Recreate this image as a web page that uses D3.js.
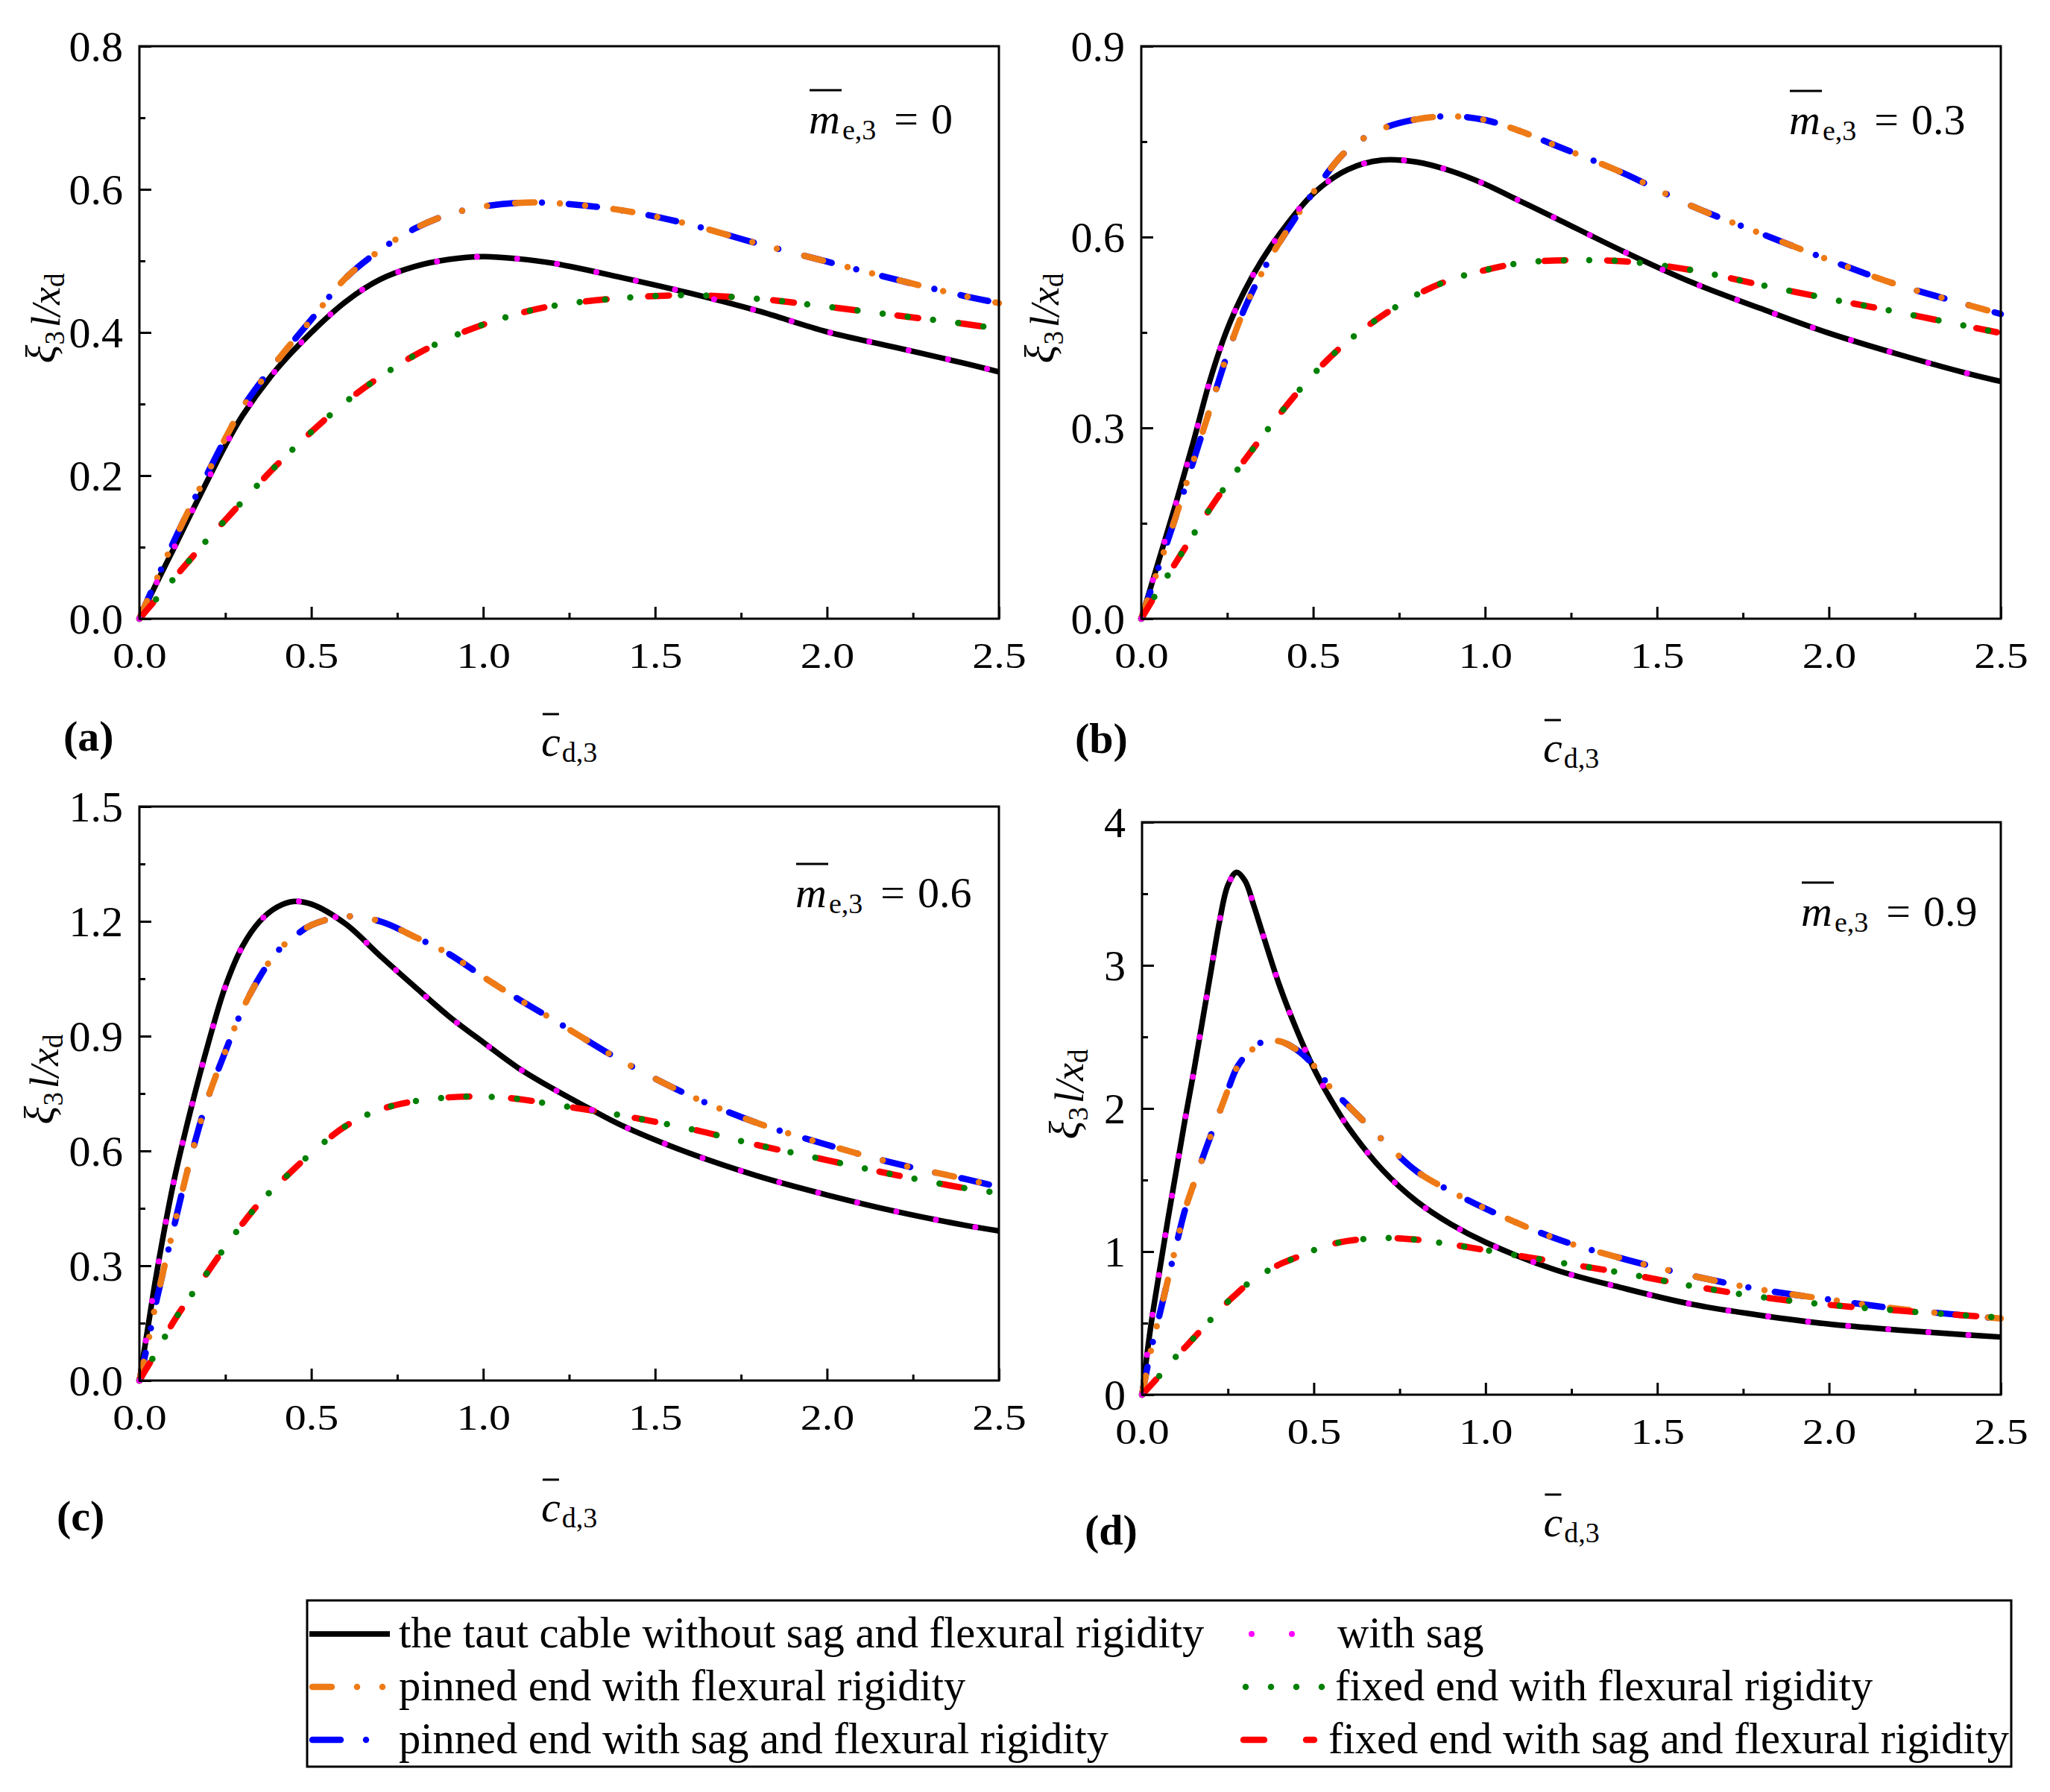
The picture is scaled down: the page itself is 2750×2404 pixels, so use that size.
<!DOCTYPE html>
<html><head><meta charset="utf-8">
<script src="https://cdn.jsdelivr.net/npm/d3@7/dist/d3.min.js"></script>
<style>
body{margin:0;background:#fff}
svg text{font-family:"Liberation Serif","Times New Roman",serif;fill:#000}
</style>
</head><body>
<svg id="chart" width="2750" height="2404"></svg>
<script>
// ---------------- data ----------------
const xTicks = [0, 0.5, 1.0, 1.5, 2.0, 2.5];
const xMinorTicks = [0.25, 0.75, 1.25, 1.75, 2.25];
const panelLabels = ["(a)", "(b)", "(c)", "(d)"];
const massValues = ["0", "0.3", "0.6", "0.9"];

const yTicksA = [0, 0.2, 0.4, 0.6, 0.8], yMinorA = [0.1, 0.3, 0.5, 0.7];
const yTicksB = [0, 0.3, 0.6, 0.9], yMinorB = [0.15, 0.45, 0.75];
const yTicksC = [0, 0.3, 0.6, 0.9, 1.2, 1.5], yMinorC = [0.15, 0.45, 0.75, 1.05, 1.35];
const yTicksD = [0, 1, 2, 3, 4], yMinorD = [0.5, 1.5, 2.5, 3.5];

// panel (a): m_e,3 = 0
const xA      = [0, 0.05, 0.1, 0.15, 0.2, 0.25, 0.3, 0.4, 0.5, 0.6, 0.7, 0.8, 0.9, 1.0, 1.1, 1.2, 1.4, 1.6, 1.8, 2.0, 2.2, 2.4, 2.5];
const tautA   = [0, 0.050, 0.098, 0.147, 0.195, 0.242, 0.284, 0.349, 0.400, 0.443, 0.474, 0.492, 0.502, 0.506, 0.503, 0.497, 0.477, 0.455, 0.430, 0.401, 0.379, 0.357, 0.345];
const pinnedA = [0, 0.055, 0.108, 0.158, 0.205, 0.252, 0.295, 0.360, 0.418, 0.476, 0.515, 0.545, 0.565, 0.576, 0.581, 0.581, 0.571, 0.551, 0.524, 0.499, 0.474, 0.451, 0.441];
const fixedA  = [0, 0.028, 0.056, 0.084, 0.112, 0.138, 0.164, 0.215, 0.261, 0.303, 0.338, 0.368, 0.392, 0.411, 0.426, 0.437, 0.448, 0.452, 0.447, 0.436, 0.424, 0.412, 0.405];

// panel (b): m_e,3 = 0.3
const xB      = [0, 0.05, 0.1, 0.15, 0.2, 0.25, 0.3, 0.35, 0.4, 0.5, 0.6, 0.7, 0.8, 0.9, 1.0, 1.1, 1.2, 1.4, 1.6, 1.8, 2.0, 2.2, 2.4, 2.5];
const tautB   = [0, 0.090, 0.180, 0.275, 0.375, 0.455, 0.515, 0.563, 0.603, 0.668, 0.706, 0.721, 0.718, 0.704, 0.683, 0.657, 0.631, 0.578, 0.529, 0.488, 0.449, 0.416, 0.386, 0.373];
const pinnedB = [0, 0.080, 0.160, 0.245, 0.330, 0.415, 0.487, 0.543, 0.590, 0.670, 0.737, 0.770, 0.785, 0.790, 0.784, 0.767, 0.745, 0.701, 0.649, 0.606, 0.564, 0.525, 0.494, 0.479];
const fixedB  = [0, 0.045, 0.088, 0.131, 0.173, 0.212, 0.249, 0.285, 0.320, 0.384, 0.436, 0.476, 0.509, 0.533, 0.548, 0.559, 0.563, 0.562, 0.548, 0.525, 0.503, 0.482, 0.460, 0.449];

// panel (c): m_e,3 = 0.6
const xC      = [0, 0.025, 0.05, 0.1, 0.15, 0.2, 0.25, 0.3, 0.35, 0.4, 0.45, 0.5, 0.6, 0.7, 0.8, 0.9, 1.0, 1.1, 1.2, 1.3, 1.4, 1.6, 1.8, 2.0, 2.2, 2.4, 2.5];
const tautC   = [0, 0.14, 0.28, 0.52, 0.71, 0.88, 1.03, 1.135, 1.20, 1.237, 1.252, 1.245, 1.193, 1.11, 1.03, 0.952, 0.884, 0.818, 0.764, 0.715, 0.668, 0.594, 0.534, 0.485, 0.442, 0.406, 0.391];
const pinnedC = [0, 0.10, 0.21, 0.40, 0.585, 0.74, 0.86, 0.97, 1.055, 1.12, 1.16, 1.19, 1.213, 1.20, 1.16, 1.115, 1.055, 0.998, 0.945, 0.89, 0.837, 0.745, 0.672, 0.616, 0.567, 0.527, 0.506];
const fixedC  = [0, 0.038, 0.075, 0.155, 0.222, 0.285, 0.35, 0.41, 0.465, 0.51, 0.553, 0.594, 0.665, 0.708, 0.73, 0.74, 0.742, 0.736, 0.722, 0.708, 0.693, 0.658, 0.615, 0.576, 0.537, 0.503, 0.49];

// panel (d): m_e,3 = 0.9
const xD      = [0, 0.025, 0.05, 0.075, 0.1, 0.125, 0.15, 0.175, 0.2, 0.225, 0.25, 0.275, 0.3, 0.325, 0.35, 0.4, 0.45, 0.5, 0.55, 0.6, 0.7, 0.8, 0.9, 1.0, 1.2, 1.4, 1.6, 1.8, 2.0, 2.2, 2.4, 2.5];
const tautD   = [0, 0.47, 0.85, 1.22, 1.57, 1.92, 2.25, 2.60, 2.95, 3.30, 3.56, 3.65, 3.59, 3.42, 3.23, 2.86, 2.55, 2.28, 2.06, 1.87, 1.57, 1.35, 1.19, 1.065, 0.875, 0.745, 0.632, 0.555, 0.493, 0.452, 0.418, 0.403];
const pinnedD = [0, 0.30, 0.55, 0.80, 1.05, 1.29, 1.47, 1.645, 1.81, 1.97, 2.13, 2.28, 2.365, 2.42, 2.465, 2.47, 2.41, 2.30, 2.14, 2.02, 1.78, 1.56, 1.42, 1.30, 1.095, 0.95, 0.832, 0.735, 0.665, 0.60, 0.553, 0.532];
const fixedD  = [0, 0.065, 0.13, 0.20, 0.27, 0.33, 0.395, 0.46, 0.525, 0.59, 0.65, 0.705, 0.76, 0.81, 0.845, 0.91, 0.96, 1.01, 1.05, 1.075, 1.095, 1.083, 1.05, 1.01, 0.93, 0.85, 0.76, 0.683, 0.628, 0.588, 0.553, 0.539];

// the "with sag" curves coincide with the taut-cable curves in the figure,
// the "pinned/fixed with sag and flexural rigidity" curves coincide with the "with flexural rigidity" ones
const sagA = tautA, sagB = tautB, sagC = tautC, sagD = tautD;
const pinnedSagA = pinnedA, pinnedSagB = pinnedB, pinnedSagC = pinnedC, pinnedSagD = pinnedD;
const fixedSagA = fixedA, fixedSagB = fixedB, fixedSagC = fixedC, fixedSagD = fixedD;

const seriesNames = {
  taut: "the taut cable without sag and flexural rigidity",
  sag: "with sag",
  pinned: "pinned end with flexural rigidity",
  fixed: "fixed end with flexural rigidity",
  pinnedSag: "pinned end with sag and flexural rigidity",
  fixedSag: "fixed end with sag and flexural rigidity"
};

// ---------------- styles / layout ----------------
const styles = {
  taut:      {color: "#000000", width: 7.5, dash: null},
  pinnedSag: {color: "#0000ff", width: 8.5, dash: "38 34 0 36"},
  pinned:    {color: "#ee7a16", width: 8.5, dash: "26 34 0 34 0 38"},
  fixedSag:  {color: "#ff0000", width: 8.5, dash: "28 56"},
  fixed:     {color: "#008000", width: 8.5, dash: "0 34"},
  sag:       {color: "#ff00ff", width: 8,   dash: "0 54"}
};
const drawOrder = ["taut", "pinnedSag", "pinned", "fixedSag", "fixed", "sag"];

const panels = [
  {left: 187, right: 1340, top: 62, bottom: 830, yMax: 0.8, yTicks: yTicksA, yMinor: yMinorA, fmt: ".1f",
   x: xA, data: {taut: tautA, sag: sagA, pinned: pinnedA, fixed: fixedA, pinnedSag: pinnedSagA, fixedSag: fixedSagA},
   ann: [1085, 179], lab: [85, 1007], yLabX: 80, xLabY: 1014},
  {left: 1531, right: 2684, top: 62, bottom: 830, yMax: 0.9, yTicks: yTicksB, yMinor: yMinorB, fmt: ".1f",
   x: xB, data: {taut: tautB, sag: sagB, pinned: pinnedB, fixed: fixedB, pinnedSag: pinnedSagB, fixedSag: fixedSagB},
   ann: [2400, 180], lab: [1442, 1010], yLabX: 1420, xLabY: 1022},
  {left: 187, right: 1340, top: 1082, bottom: 1852, yMax: 1.5, yTicks: yTicksC, yMinor: yMinorC, fmt: ".1f",
   x: xC, data: {taut: tautC, sag: sagC, pinned: pinnedC, fixed: fixedC, pinnedSag: pinnedSagC, fixedSag: fixedSagC},
   ann: [1067, 1217], lab: [76, 2053], yLabX: 78, xLabY: 2041},
  {left: 1532, right: 2684, top: 1103, bottom: 1871, yMax: 4, yTicks: yTicksD, yMinor: yMinorD, fmt: "d",
   x: xD, data: {taut: tautD, sag: sagD, pinned: pinnedD, fixed: fixedD, pinnedSag: pinnedSagD, fixedSag: fixedSagD},
   ann: [2416, 1242], lab: [1455, 2072], yLabX: 1453, xLabY: 2061}
];

const FS = 58, SUB = 38;
const svg = d3.select("#chart");
svg.append("rect").attr("width", 2750).attr("height", 2404).attr("fill", "#fff");

function applyStyle(sel, st) {
  sel.attr("fill", "none").attr("stroke", st.color).attr("stroke-width", st.width)
     .attr("stroke-linecap", st.dash ? "round" : "butt").attr("stroke-linejoin", "round");
  if (st.dash) sel.attr("stroke-dasharray", st.dash);
}

panels.forEach((p, i) => {
  const g = svg.append("g");
  const x = d3.scaleLinear().domain([0, 2.5]).range([p.left, p.right]);
  const y = d3.scaleLinear().domain([0, p.yMax]).range([p.bottom, p.top]);

  // curves
  const line = d3.line().x(d => x(d[0])).y(d => y(d[1])).curve(d3.curveCatmullRom.alpha(0.5));
  drawOrder.forEach(k => {
    g.append("path").datum(d3.zip(p.x, p.data[k])).attr("d", line).call(applyStyle, styles[k]);
  });

  // x axis (ticks inside)
  const xa = g.append("g").attr("transform", `translate(0,${p.bottom})`)
    .call(d3.axisBottom(x).tickValues(xTicks).tickSize(-16).tickSizeOuter(0).tickFormat(d3.format(".1f")));
  const xm = g.append("g").attr("transform", `translate(0,${p.bottom})`)
    .call(d3.axisBottom(x).tickValues(xMinorTicks).tickSize(-8).tickSizeOuter(0).tickFormat(""));
  [xa, xm].forEach(a => { a.select(".domain").remove(); a.selectAll("line").attr("stroke-width", 3); });
  xa.attr("font-size", FS).attr("font-family", null);
  xa.selectAll("text").attr("y", 0).attr("dy", null)
    .attr("transform", "translate(0,66) scale(1,0.85)");

  // y axis
  const ya = g.append("g").attr("transform", `translate(${p.left},0)`)
    .call(d3.axisLeft(y).tickValues(p.yTicks).tickSize(-16).tickSizeOuter(0).tickPadding(22).tickFormat(d3.format(p.fmt)));
  const ym = g.append("g").attr("transform", `translate(${p.left},0)`)
    .call(d3.axisLeft(y).tickValues(p.yMinor).tickSize(-8).tickSizeOuter(0).tickFormat(""));
  [ya, ym].forEach(a => { a.select(".domain").remove(); a.selectAll("line").attr("stroke-width", 3); });
  ya.attr("font-size", FS).attr("font-family", null);
  ya.selectAll("text").attr("dy", "0.34em");

  // frame
  g.append("rect").attr("x", p.left).attr("y", p.top).attr("width", p.right - p.left).attr("height", p.bottom - p.top)
    .attr("fill", "none").attr("stroke", "#000").attr("stroke-width", 3);

  // y label  ξ3 l/xd
  const yl = g.append("text")
    .attr("transform", `translate(${p.yLabX},${(p.top + p.bottom) / 2 - 19}) rotate(-90)`)
    .attr("text-anchor", "middle").attr("font-size", 54);
  yl.append("tspan").attr("font-style", "italic").attr("font-size", 58).attr("dy", -6).text("ξ");
  yl.append("tspan").attr("font-size", 37).attr("dy", 12).text("3");
  yl.append("tspan").attr("font-style", "italic").attr("dy", -6).attr("dx", 5).text("l/x");
  yl.append("tspan").attr("font-size", 37).attr("dy", 6).text("d");

  // x label
  const xl = g.append("text").attr("x", (p.left + p.right) / 2).attr("y", p.xLabY)
    .attr("text-anchor", "middle").attr("font-size", FS);
  xl.append("tspan").attr("font-style", "italic").text("c");
  xl.append("tspan").attr("font-size", SUB).attr("dy", 8).attr("dx", 2).text("d,3");
  const ce = xl.node().getExtentOfChar(0);
  g.append("line").attr("x1", ce.x + 2).attr("x2", ce.x + 24).attr("y1", p.xLabY - 56).attr("y2", p.xLabY - 56)
    .attr("stroke", "#000").attr("stroke-width", 3);

  // annotation  m_e,3 = value
  const an = g.append("text").attr("x", p.ann[0]).attr("y", p.ann[1]).attr("font-size", FS);
  an.append("tspan").attr("font-style", "italic").text("m");
  an.append("tspan").attr("font-size", SUB).attr("dy", 8).attr("dx", 3).text("e,3");
  an.append("tspan").attr("dy", -8).attr("dx", 24).text("=");
  an.append("tspan").attr("dx", 17).text(massValues[i]);
  const me = an.node().getExtentOfChar(0);
  g.append("line").attr("x1", me.x + 1).attr("x2", me.x + 44).attr("y1", p.ann[1] - 58).attr("y2", p.ann[1] - 58)
    .attr("stroke", "#000").attr("stroke-width", 3);

  // panel label
  g.append("text").attr("x", p.lab[0]).attr("y", p.lab[1]).attr("font-size", FS).attr("font-weight", "bold")
    .text(panelLabels[i]);
});

// ---------------- legend ----------------
const leg = svg.append("g");
leg.append("rect").attr("x", 412).attr("y", 2147).attr("width", 2286).attr("height", 223)
  .attr("fill", "#fff").attr("stroke", "#000").attr("stroke-width", 3);
const rowBase = [2210, 2281, 2352];
const legendItems = [
  {key: "taut",      row: 0, x0: 415,  x1: 523,  tx: 535},
  {key: "sag",       row: 0, x0: 1679, x1: 1735, tx: 1794},
  {key: "pinned",    row: 1, x0: 419,  x1: 523,  tx: 535},
  {key: "fixed",     row: 1, x0: 1671, x1: 1775, tx: 1791},
  {key: "pinnedSag", row: 2, x0: 419,  x1: 523,  tx: 535},
  {key: "fixedSag",  row: 2, x0: 1668, x1: 1763, tx: 1782}
];
legendItems.forEach(it => {
  const yy = rowBase[it.row] - 18;
  leg.append("path").attr("d", d3.line()([[it.x0, yy], [it.x1, yy]])).call(applyStyle, styles[it.key]);
  leg.append("text").attr("x", it.tx).attr("y", rowBase[it.row]).attr("font-size", 58.5).text(seriesNames[it.key]);
});
</script>
</body></html>
